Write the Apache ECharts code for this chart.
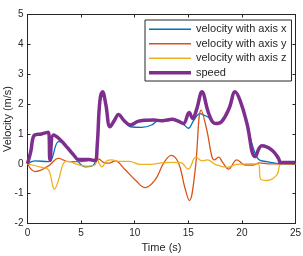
<!DOCTYPE html>
<html>
<head>
<meta charset="utf-8">
<script src="https://cdn.jsdelivr.net/npm/echarts@6/dist/echarts.min.js"></script>
<style>html,body{margin:0;padding:0;background:#fff}#c{width:303px;height:256px}</style>
</head>
<body>
<div id="c"></div>
<script>
// Series: velocity along x
var xT = [0, 0.7, 1.96, 2.2, 2.9, 3.3, 3.7, 4.3, 4.6, 5.0, 5.38, 6.16, 6.5, 6.75, 7.0, 7.3, 7.7, 8.1, 8.5, 9.0, 9.58, 10.67, 11.6, 12.2, 12.8, 13.5, 14.0, 14.55, 15.0, 15.5, 16.1, 16.5, 16.9, 17.3, 17.5, 18.1, 18.8, 19.37, 19.9, 20.47, 21.0, 21.55, 22.33, 23.0, 23.6, 25];
var xV = [0, 0.1, 0.07, 0.1, 0.74, 0.72, 0.55, 0.3, 0.12, -0.03, -0.1, -0.04, 0.4, 2.05, 2.38, 1.98, 1.22, 1.43, 1.63, 1.43, 1.24, 1.22, 1.3, 1.44, 1.44, 1.46, 1.42, 1.32, 1.19, 1.45, 1.68, 1.62, 1.55, 1.38, 1.33, 1.4, 1.84, 2.4, 2.03, 1.33, 0.6, 0.15, 0.07, 0.03, 0, 0];
// Series: velocity along y
var yT = [0, 0.72, 1.96, 2.9, 3.83, 4.76, 6.0, 6.62, 7.09, 7.6, 8.18, 9.11, 10.05, 10.98, 11.9, 12.7, 13.4, 14.1, 14.65, 15.1, 15.64, 16.2, 16.73, 17.2, 17.44, 17.82, 18.2, 18.75, 19.53, 20.3, 21.08, 21.6, 22.5, 23.5, 25];
var yV = [0, -0.26, -0.07, 0.18, 0.07, 0.07, 0.13, 0.16, 0.05, 0.02, 0.1, -0.2, -0.54, -0.8, -0.54, 0.02, 0.28, 0.02, -0.76, -1.23, -0.21, 1.8, 1.13, 0.24, 0.13, 0.22, 0.05, -0.18, 0.13, -0.04, -0.04, 0.03, 0.0, 0.0, 0.0];
// Series: velocity along z
var zT = [0, 1.34, 1.96, 2.52, 2.9, 3.36, 3.8, 4.5, 5.38, 6.3, 6.47, 6.7, 6.94, 7.4, 7.87, 8.5, 9.5, 10.5, 11.5, 12.5, 13.5, 14.3, 15.0, 15.7, 16.3, 16.8, 17.5, 18.6, 19.5, 20.5, 21.5, 21.77, 22.33, 23.26, 23.5, 23.6, 25];
var zV = [0, -0.12, -0.2, -0.85, -0.54, 0.02, 0.08, 0.0, -0.08, -0.04, 0.2, 0.0, -0.1, 0.1, 0.13, 0.08, 0.08, -0.02, -0.02, 0.03, 0.05, 0.04, -0.18, 0.22, 0.1, 0.13, -0.02, -0.12, -0.02, 0.0, 0.0, -0.52, -0.56, -0.37, -0.07, 0.0, 0.0];
// Series: speed
var sT = [0, 0.3, 0.65, 1.3, 1.95, 2.1, 2.43, 3.0, 3.7, 4.3, 4.76, 5.7, 6.3, 6.5, 6.75, 7.0, 7.3, 7.7, 8.1, 8.5, 9.0, 9.6, 10.3, 11.0, 11.8, 12.5, 13.0, 13.5, 14.0, 14.55, 15.08, 15.4, 15.8, 16.27, 16.9, 17.5, 18.1, 18.8, 19.37, 19.9, 20.47, 21.24, 21.86, 22.8, 23.42, 23.6, 24.3, 25];
var sV = [0, 0.4, 0.96, 1.0, 1.06, 0.13, 0.96, 0.82, 0.55, 0.3, 0.14, 0.14, 0.1, 0.6, 2.1, 2.41, 2.0, 1.24, 1.45, 1.65, 1.45, 1.3, 1.42, 1.46, 1.47, 1.44, 1.47, 1.49, 1.44, 1.35, 1.72, 1.52, 1.85, 2.41, 1.69, 1.35, 1.41, 1.85, 2.41, 2.05, 1.35, 0.24, 0.6, 0.46, 0.18, 0.04, 0.04, 0.04];

var names = ['velocity with axis x', 'velocity with axis y', 'velocity with axis z', 'speed'];
var colors = ['#0072BD', '#D95319', '#EDB120', '#7E2F8E'];
var xTicks = {min: 0, max: 25, interval: 5};
var yTicks = {min: -2, max: 5, interval: 1};

function pairs(t, v) { return t.map(function (x, i) { return [x, v[i]]; }); }

var ink = '#262626';
var font = 'Liberation Sans, Arial, Helvetica, sans-serif';
function axisBase(extra) {
  var a = {
    type: 'value', splitLine: {show: false},
    axisLine: {show: true, onZero: false, lineStyle: {color: ink, width: 1}},
    axisTick: {show: true, inside: true, length: 3, lineStyle: {color: ink}},
    axisLabel: {color: ink, fontSize: 10, fontFamily: font}
  };
  for (var k in extra) a[k] = extra[k];
  return a;
}

var chart = echarts.init(document.getElementById('c'), null, {renderer: 'canvas'});
var data = [pairs(xT, xV), pairs(yT, yV), pairs(zT, zV), pairs(sT, sV)];
var widths = [1.3, 1.3, 1.3, 3.5];

var series = names.map(function (n, i) {
  return {
    name: n, type: 'line', data: data[i], showSymbol: false, symbol: 'none',
    smooth: 0.4,
    lineStyle: {color: colors[i], width: widths[i]},
    itemStyle: {color: colors[i]},
    z: 2 + i
  };
});
series.push({name: 'frame', type: 'line', xAxisIndex: 1, yAxisIndex: 1, data: [], silent: true, symbol: 'none'});

chart.setOption({
  animation: false,
  backgroundColor: '#fff',
  grid: {left: 27.5, right: 7.5, top: 14.5, bottom: 32.5, containLabel: false, outerBoundsMode: 'none',
    show: true, borderColor: ink, borderWidth: 1, backgroundColor: 'transparent'},
  xAxis: [
    axisBase({min: xTicks.min, max: xTicks.max, interval: xTicks.interval, position: 'bottom',
      name: 'Time (s)', nameLocation: 'middle', nameGap: 19, nameMoveOverlap: false,
      nameTextStyle: {color: ink, fontSize: 11, fontFamily: font},
      axisLabel: {color: ink, fontSize: 10, fontFamily: font, margin: 5}}),
    axisBase({min: xTicks.min, max: xTicks.max, interval: xTicks.interval, position: 'top',
      axisLabel: {show: false}})
  ],
  yAxis: [
    axisBase({min: yTicks.min, max: yTicks.max, interval: yTicks.interval, position: 'left',
      name: 'Velocity (m/s)', nameLocation: 'middle', nameGap: 14, nameMoveOverlap: false,
      nameTextStyle: {color: ink, fontSize: 11, fontFamily: font},
      axisLabel: {color: ink, fontSize: 10, fontFamily: font, margin: 4}}),
    axisBase({min: yTicks.min, max: yTicks.max, interval: yTicks.interval, position: 'right',
      axisLabel: {show: false}})
  ],
  legend: {
    orient: 'vertical', left: 145, top: 20,
    padding: [3, 5, 2, 4], itemGap: 2, itemWidth: 42, itemHeight: 12.5,
    backgroundColor: '#fff', borderColor: ink, borderWidth: 1,
    textStyle: {color: ink, fontSize: 11, fontFamily: font, lineHeight: 12.5},
    data: names.map(function (n, i) {
      return {name: n, icon: 'path://M0,0H42V' + widths[i] + 'H0Z'};
    })
  },
  series: series
});
</script>
</body>
</html>
